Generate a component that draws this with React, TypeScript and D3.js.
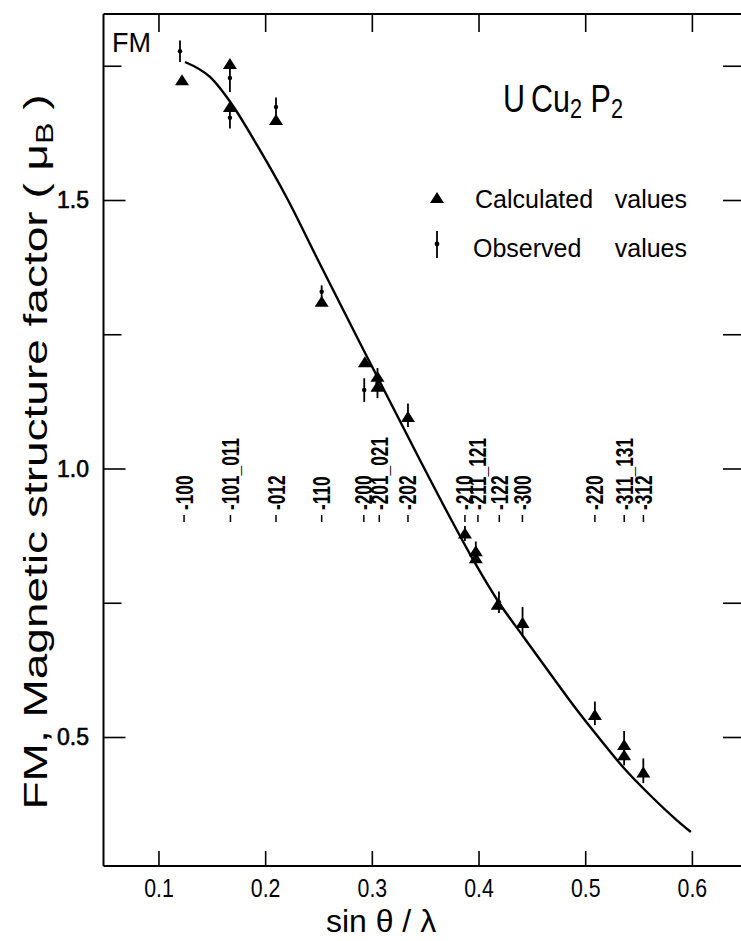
import React from "react";
import * as d3 from "d3";

// ---- data ----
const reflections = ["100", "101_011", "012", "110", "200", "201_021", "202", "210", "211_121", "122", "300", "220", "311_131", "312"];
const reflectionS = [0.1235, 0.167, 0.2097, 0.2525, 0.292, 0.3065, 0.3334, 0.3868, 0.399, 0.419, 0.4407, 0.5086, 0.5361, 0.5541];

const calcS = [0.1216, 0.1665, 0.1665, 0.2097, 0.2525, 0.293, 0.3048, 0.3048, 0.3334, 0.3868, 0.397, 0.397, 0.4175, 0.4408, 0.5086, 0.536, 0.536, 0.554];
const calcF = [1.724, 1.754, 1.674, 1.65, 1.3115, 1.199, 1.172, 1.153, 1.097, 0.88, 0.847, 0.834, 0.747, 0.713, 0.542, 0.486, 0.467, 0.435];

const obsS = [0.1197, 0.1665, 0.1665, 0.2097, 0.2525, 0.2924, 0.3048, 0.3334, 0.3868, 0.397, 0.4187, 0.4408, 0.5086, 0.536, 0.554];
const obsF = [1.778, 1.728, 1.654, 1.674, 1.33, 1.147, 1.16, 1.1, 0.88, 0.845, 0.752, 0.717, 0.545, 0.48, 0.438];
const obsErr = [0.02, 0.026, 0.02, 0.018, 0.012, 0.022, 0.028, 0.022, 0.014, 0.02, 0.02, 0.026, 0.022, 0.032, 0.023];

const curveS = [0.1244, 0.1478, 0.1694, 0.1918, 0.2209, 0.249, 0.2884, 0.3446, 0.3746, 0.3962, 0.4177, 0.4411, 0.4683, 0.4918, 0.5133, 0.5349, 0.5602, 0.5855, 0.5986];
const curveF = [1.7579, 1.73, 1.676, 1.6034, 1.5009, 1.3892, 1.2346, 1.0168, 0.9032, 0.825, 0.7542, 0.689, 0.6145, 0.5512, 0.4972, 0.4451, 0.3929, 0.3458, 0.324];

const xTicks = [0.1, 0.2, 0.3, 0.4, 0.5, 0.6];
const yMajorTicks = [0.5, 1.0, 1.5];
const yMinorTicks = [0.75, 1.25, 1.75];

const W = 741;
const H = 941;
const FONT = "'Liberation Sans', Arial, sans-serif";

export default function App() {
  const x = d3.scaleLinear().domain([0.048, 0.6465]).range([103.5, 742]);
  const y = d3.scaleLinear().domain([0.2607, 1.8473]).range([866, 14]);
  const [x0, x1] = x.range();
  const [yb, yt] = y.range();

  const curvePts: [number, number][] = curveS.map((s, i) => [s, curveF[i]]);
  const line = d3
    .line<[number, number]>()
    .x((d) => x(d[0]))
    .y((d) => y(d[1]))
    .curve(d3.curveMonotoneX);

  const tri = (cx: number, cy: number) =>
    `M${cx},${cy - 6} L${cx + 7},${cy + 5} L${cx - 7},${cy + 5} Z`;

  return (
    <svg width={W} height={H} style={{ position: "absolute", left: 0, top: 0, background: "#fff" }} fontFamily={FONT}>
      <rect x={0} y={0} width={W} height={H} fill="#fff" />
      {/* frame */}
      <line x1={x0} x2={x0} y1={yt} y2={yb} stroke="#000" strokeWidth={2} />
      <line x1={x0} x2={x1} y1={yb} y2={yb} stroke="#000" strokeWidth={2} />
      <line x1={x0} x2={x1} y1={yt} y2={yt} stroke="#000" strokeWidth={2} />

      {/* x ticks bottom & top */}
      {xTicks.map((t) => (
        <g key={"xt" + t}>
          <line x1={x(t)} x2={x(t)} y1={yb} y2={yb - 15} stroke="#000" strokeWidth={1.6} />
          <line x1={x(t)} x2={x(t)} y1={yt} y2={yt + 18} stroke="#000" strokeWidth={1.6} />
          <text transform={`translate(${x(t)},897) scale(0.82,1)`} textAnchor="middle" fontSize={26}>
            {t.toFixed(1)}
          </text>
        </g>
      ))}

      {/* y ticks */}
      {yMajorTicks.map((t) => (
        <g key={"ym" + t}>
          <line x1={x0} x2={x0 + 22} y1={y(t)} y2={y(t)} stroke="#000" strokeWidth={1.6} />
          <line x1={x1 - 19} x2={x1} y1={y(t)} y2={y(t)} stroke="#000" strokeWidth={1.6} />
          <text x={89} y={y(t) + 8} textAnchor="end" fontSize={23} stroke="#000" strokeWidth={0.6}>
            {t.toFixed(1)}
          </text>
        </g>
      ))}
      {yMinorTicks.map((t) => (
        <g key={"yn" + t}>
          <line x1={x0} x2={x0 + 18} y1={y(t)} y2={y(t)} stroke="#000" strokeWidth={1.6} />
          <line x1={x1 - 19} x2={x1} y1={y(t)} y2={y(t)} stroke="#000" strokeWidth={1.6} />
        </g>
      ))}

      {/* axis titles */}
      <text transform={`translate(381,932)`} textAnchor="middle" fontSize={32}>
        sin θ / λ
      </text>
      <text transform={`translate(47,452) rotate(-90)`} textAnchor="middle" fontSize={33} textLength={715} lengthAdjust="spacingAndGlyphs">
        FM, Magnetic structure factor ( μ<tspan fontSize={23} dy={6}>B</tspan>
        <tspan dy={-6}> )</tspan>
      </text>

      {/* corner label */}
      <text x={112} y={52} fontSize={27}>
        FM
      </text>

      {/* compound */}
      <text x={503} y={112} fontSize={38} textLength={120} lengthAdjust="spacingAndGlyphs">
        {"U\u2009Cu"}
        <tspan fontSize={27} dy={6}>2</tspan>
        <tspan dy={-6}>{" P"}</tspan>
        <tspan fontSize={27} dy={6}>2</tspan>
      </text>

      {/* legend */}
      <path d={tri(437, 198)} fill="#000" />
      <line x1={437} x2={437} y1={231} y2={258} stroke="#000" strokeWidth={1.8} />
      <circle cx={437} cy={244} r={2.4} fill="#000" />
      <text x={475} y={208} fontSize={25}>Calculated</text>
      <text x={687} y={208} fontSize={25} textAnchor="end">values</text>
      <text x={473} y={257} fontSize={25}>Observed</text>
      <text x={687} y={257} fontSize={25} textAnchor="end">values</text>

      {/* reflection labels */}
      {reflections.map((r, i) => {
        const px = x(reflectionS[i]);
        return (
          <g key={"r" + r}>
            <line x1={px} x2={px} y1={515} y2={522} stroke="#000" strokeWidth={1.5} />
            <text transform={`translate(${px + 8.5},510) rotate(-90) scale(0.72,1)`} fontSize={24} fontWeight="bold">
              {"-" + r}
            </text>
          </g>
        );
      })}

      {/* fitted curve */}
      <path d={line(curvePts) || ""} fill="none" stroke="#000" strokeWidth={2.4} />

      {/* calculated values */}
      {calcS.map((s, i) => (
        <path key={"c" + i} d={tri(x(s), y(calcF[i]))} fill="#000" />
      ))}

      {/* observed values */}
      {obsS.map((s, i) => (
        <g key={"o" + i}>
          <line x1={x(s)} x2={x(s)} y1={y(obsF[i] - obsErr[i])} y2={y(obsF[i] + obsErr[i])} stroke="#000" strokeWidth={1.8} />
          <circle cx={x(s)} cy={y(obsF[i])} r={2.2} fill="#000" />
        </g>
      ))}
    </svg>
  );
}
